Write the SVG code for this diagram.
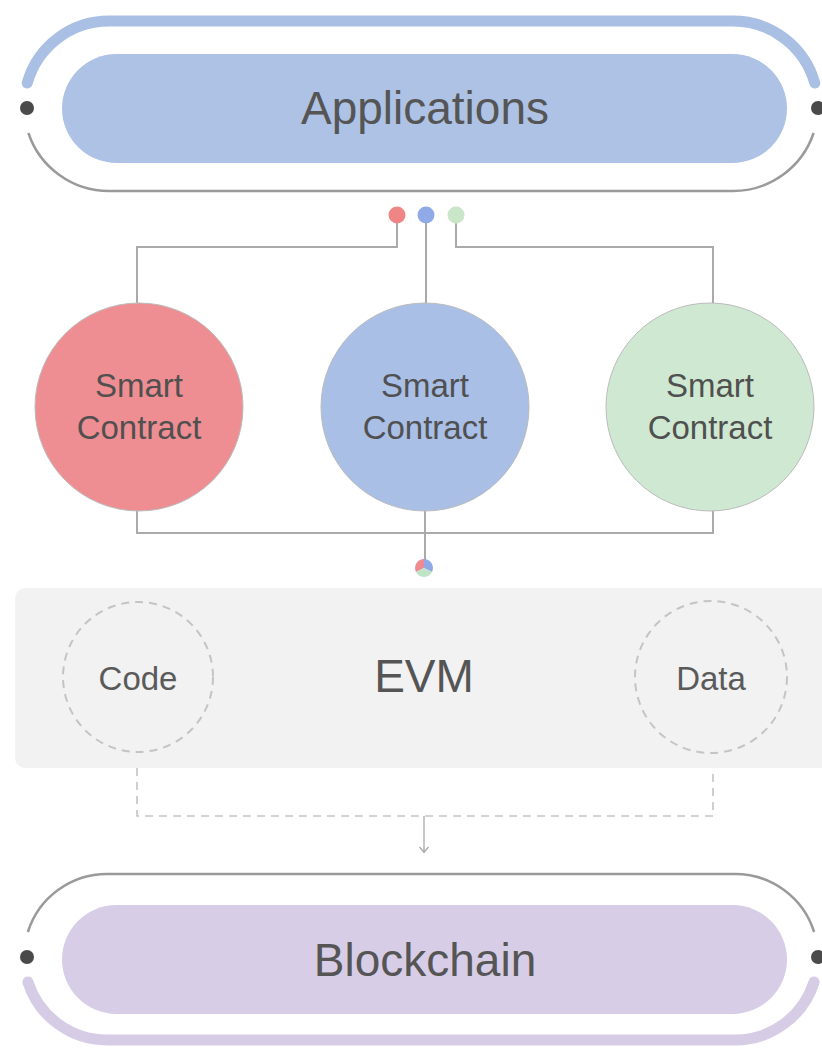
<svg xmlns="http://www.w3.org/2000/svg" width="822" height="1049" viewBox="0 0 822 1049">
<style>
text{font-family:"Liberation Sans",Arial,sans-serif;fill:#555;text-anchor:middle}
.big{font-size:46px}
.sc{font-size:33px;fill:#505050}
.small{font-size:33px;fill:#5a5a5a}
.conn{fill:none;stroke:#aaa;stroke-width:2}
.dash{fill:none;stroke:#c4c4c4;stroke-width:1.6;stroke-dasharray:8 6}
.ring{fill:none;stroke:#9a9a9a;stroke-width:2.5}
.knob{fill:#4a4a4a}
.circ{stroke:#bbb;stroke-width:1}
</style>
<rect width="822" height="1049" fill="#fff"/>
<g id="connectors">
<path class="conn" d="M397,215 V247 H137 V303"/>
<path class="conn" d="M426,215 V303"/>
<path class="conn" d="M456,215 V247 H713 V303"/>
<path class="conn" d="M137,510 V533 H713 V510"/>
<path class="conn" d="M425,510 V562"/>
<path class="dash" d="M137,768 V816 H713 V768"/>
<path fill="none" stroke="#aaa" stroke-width="1.3" d="M424,816 V852 M419.5,847 L424,852.5 L428.5,847"/>
<circle cx="397" cy="215" r="8.5" fill="#f08585"/>
<circle cx="426" cy="215" r="8.5" fill="#8faae6"/>
<circle cx="456" cy="215" r="8.5" fill="#c9e6c9"/>
<g id="mixdot">
<path d="M424,568 L424,559 A9,9 0 0 0 416,572 Z" fill="#ef8a90"/>
<path d="M424,568 L424,559 A9,9 0 0 1 432,572 Z" fill="#8faae6"/>
<path d="M424,568 L416,572 A9,9 0 0 0 432,572 Z" fill="#bfe3c6"/>
</g>
</g>
<g id="applications">
<path d="M27.2,83 A85,85 0 0 1 109,21 L733,21 A85,85 0 0 1 814.8,83" fill="none" stroke="#a9bfe3" stroke-width="11" stroke-linecap="round"/>
<path class="ring" d="M28.4,133 A85,85 0 0 0 109,191 L733,191 A85,85 0 0 0 813.6,133"/>
<circle class="knob" cx="27" cy="108" r="7"/>
<circle class="knob" cx="818" cy="108" r="7"/>
<rect x="62" y="54" width="725" height="109" rx="54.5" fill="#adc2e4"/>
<text class="big" x="425" y="124">Applications</text>
</g>
<g id="sc-red">
<circle class="circ" cx="139" cy="407" r="104" fill="#ee8e92"/>
<text class="sc" x="139" y="397">Smart</text>
<text class="sc" x="139" y="439">Contract</text>
</g>
<g id="sc-blue">
<circle class="circ" cx="425" cy="407" r="104" fill="#a9bfe6"/>
<text class="sc" x="425" y="397">Smart</text>
<text class="sc" x="425" y="439">Contract</text>
</g>
<g id="sc-green">
<circle class="circ" cx="710" cy="407" r="104" fill="#cfe8d1"/>
<text class="sc" x="710" y="397">Smart</text>
<text class="sc" x="710" y="439">Contract</text>
</g>
<g id="evm">
<rect x="15" y="588" width="820" height="180" rx="10" fill="#f2f2f2"/>
<text class="big" x="424" y="692">EVM</text>
</g>
<g id="code">
<circle cx="138" cy="677" r="75" fill="none" stroke="#c4c4c4" stroke-width="2" stroke-dasharray="8 6"/>
<text class="small" x="138" y="690">Code</text>
</g>
<g id="data">
<circle cx="711" cy="677" r="76" fill="none" stroke="#c4c4c4" stroke-width="2" stroke-dasharray="8 6"/>
<text class="small" x="711" y="690">Data</text>
</g>
<g id="blockchain">
<path class="ring" d="M27.9,932 A83,83 0 0 1 107,874 L735,874 A83,83 0 0 1 814.1,932"/>
<path d="M27.9,982 A83,83 0 0 0 107,1040 L735,1040 A83,83 0 0 0 814.1,982" fill="none" stroke="#d6cce6" stroke-width="11" stroke-linecap="round"/>
<circle class="knob" cx="27" cy="957" r="7"/>
<circle class="knob" cx="818" cy="957" r="7"/>
<rect x="62" y="905" width="725" height="109" rx="54.5" fill="#d7cde6"/>
<text class="big" x="425" y="976">Blockchain</text>
</g>
</svg>
